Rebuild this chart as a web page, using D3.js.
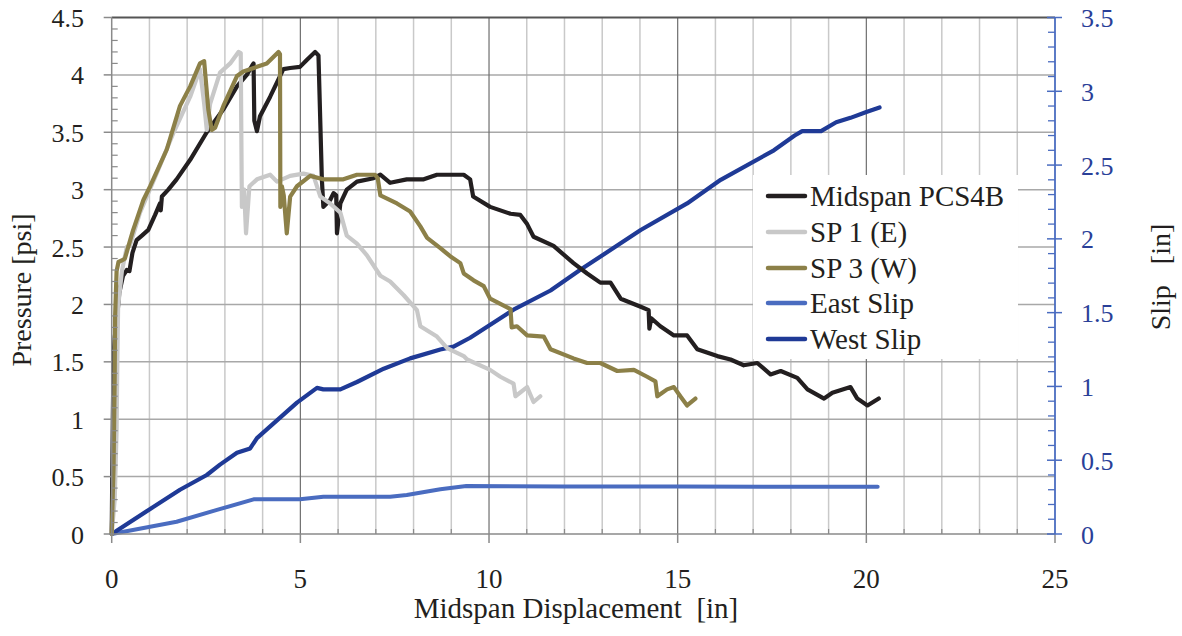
<!DOCTYPE html>
<html><head><meta charset="utf-8">
<script src="https://cdn.jsdelivr.net/npm/d3@7"></script>
<style>body{margin:0;background:#fff}text{font-family:"Liberation Serif","Times New Roman",serif}</style>
</head><body><svg id="c" width="1182" height="636"></svg>
<script>
const seriesNames = ["Midspan PCS4B","SP 1 (E)","SP 3 (W)","East Slip","West Slip"];
const xTicks = [0,5,10,15,20,25];
const yTicks = [0,0.5,1,1.5,2,2.5,3,3.5,4,4.5];
const y2Ticks = [0,0.5,1,1.5,2,2.5,3,3.5];

const midspanPCS4B = [[0,0],[0.03,1.0],[0.05,1.55],[0.08,1.72],[0.12,1.8],[0.2,2.1],[0.3,2.25],[0.4,2.3],[0.47,2.29],[0.55,2.45],[0.66,2.56],[0.8,2.6],[0.97,2.65],[1.15,2.78],[1.28,2.88],[1.3,2.82],[1.33,2.94],[1.5,3.0],[1.72,3.09],[2.08,3.26],[2.52,3.5],[2.96,3.7],[3.32,3.9],[3.58,4.0],[3.72,4.08],[3.76,4.1],[3.78,3.6],[3.85,3.51],[3.93,3.64],[4.2,3.81],[4.55,4.05],[4.73,4.06],[4.99,4.07],[5.17,4.13],[5.39,4.2],[5.48,4.17],[5.57,3.09],[5.61,2.85],[5.79,2.91],[5.88,2.97],[5.95,2.95],[5.97,2.62],[6.06,2.88],[6.23,3.0],[6.5,3.07],[6.94,3.1],[7.12,3.13],[7.38,3.06],[7.82,3.09],[8.27,3.09],[8.62,3.13],[9.15,3.13],[9.33,3.13],[9.5,3.09],[9.58,2.94],[10.03,2.85],[10.57,2.79],[10.83,2.78],[11.01,2.7],[11.18,2.59],[11.71,2.51],[12.24,2.36],[12.6,2.27],[12.95,2.19],[13.22,2.19],[13.49,2.05],[14.02,1.98],[14.23,1.95],[14.25,1.79],[14.3,1.88],[14.54,1.81],[14.9,1.73],[15.25,1.73],[15.52,1.61],[16.05,1.55],[16.4,1.52],[16.75,1.47],[17.11,1.49],[17.46,1.39],[17.73,1.42],[18.17,1.36],[18.44,1.26],[18.88,1.18],[19.1,1.23],[19.58,1.28],[19.76,1.18],[20.03,1.12],[20.33,1.18]];

const sp1E = [[0,0],[0.08,0.3],[0.13,0.91],[0.15,1.5],[0.17,1.98],[0.27,2.29],[0.4,2.5],[0.49,2.52],[0.75,2.8],[1.19,3.14],[1.63,3.49],[2.08,3.81],[2.34,4.05],[2.45,3.75],[2.52,3.52],[2.61,3.75],[2.87,4.02],[3.14,4.1],[3.36,4.2],[3.42,4.19],[3.45,2.85],[3.51,3.0],[3.56,2.62],[3.65,3.03],[3.85,3.09],[4.2,3.13],[4.38,3.07],[4.73,3.12],[5.08,3.14],[5.35,3.12],[5.53,2.94],[5.79,2.88],[6.06,2.8],[6.23,2.6],[6.5,2.53],[6.76,2.43],[7.12,2.25],[7.38,2.2],[7.74,2.08],[8.09,1.95],[8.18,1.81],[8.62,1.72],[8.89,1.62],[9.33,1.55],[9.42,1.52],[10.03,1.43],[10.3,1.37],[10.65,1.31],[10.7,1.2],[11.01,1.28],[11.18,1.15],[11.36,1.2]];

const sp3W = [[0,0],[0.05,0.6],[0.08,1.4],[0.09,1.89],[0.13,2.29],[0.18,2.37],[0.31,2.39],[0.35,2.4],[0.49,2.56],[0.57,2.65],[0.84,2.91],[1.02,3.03],[1.46,3.35],[1.81,3.73],[2.08,3.9],[2.34,4.1],[2.45,4.12],[2.56,3.7],[2.65,3.52],[2.74,3.54],[2.96,3.73],[3.32,3.99],[3.49,4.03],[3.85,4.07],[4.11,4.1],[4.42,4.2],[4.46,4.18],[4.47,2.85],[4.51,3.03],[4.56,2.95],[4.64,2.62],[4.73,2.94],[4.91,3.03],[5.26,3.12],[5.61,3.09],[6.14,3.09],[6.5,3.13],[6.98,3.13],[7.05,3.1],[7.12,2.95],[7.56,2.88],[7.91,2.81],[8.18,2.68],[8.36,2.58],[8.71,2.49],[8.97,2.42],[9.24,2.36],[9.33,2.27],[9.59,2.21],[9.86,2.16],[10.03,2.05],[10.57,1.96],[10.6,1.8],[10.74,1.81],[11.01,1.73],[11.45,1.72],[11.63,1.61],[12.24,1.53],[12.6,1.49],[12.95,1.49],[13.4,1.42],[13.84,1.43],[14.19,1.37],[14.41,1.33],[14.46,1.2],[14.72,1.26],[14.9,1.28],[15.07,1.2],[15.25,1.12],[15.47,1.18]];

const eastSlip = [[0,0],[1.72,0.083],[2.79,0.163],[3.76,0.235],[4.99,0.235],[5.61,0.253],[7.38,0.253],[7.82,0.264],[8.71,0.303],[9.4,0.325],[12,0.322],[15,0.322],[18,0.32],[20.3,0.32]];

const westSlip = [[0,0],[1.02,0.17],[1.81,0.3],[2.52,0.4],[2.87,0.47],[3.32,0.55],[3.67,0.58],[3.85,0.65],[4.38,0.77],[4.91,0.89],[5.44,0.99],[5.61,0.98],[6.06,0.98],[6.5,1.03],[7.21,1.12],[7.91,1.19],[8.71,1.25],[9.06,1.27],[9.5,1.33],[10.65,1.52],[11.63,1.65],[12.42,1.79],[14.02,2.06],[15.25,2.24],[16.14,2.4],[17.55,2.6],[18.1,2.7],[18.3,2.73],[18.8,2.73],[19.2,2.79],[19.58,2.82],[20.0,2.86],[20.35,2.89]];

const colors = {"Midspan PCS4B":"#231f20","SP 1 (E)":"#c8c8c8","SP 3 (W)":"#8c8048","East Slip":"#4a6cc0","West Slip":"#1f3a96"};

const L=111.7, R=1055, T=17.5, B=534;
const svg = d3.select("#c");
const x = d3.scaleLinear().domain([0,25]).range([L,R]);
const y = d3.scaleLinear().domain([0,4.5]).range([B,T]);
const y2 = d3.scaleLinear().domain([0,3.5]).range([B,T]);

const g = svg.append("g");
// grid
const minorX = d3.range(1,25).filter(v=>v%5!==0);
g.selectAll(".gx").data(minorX).join("line").attr("x1",d=>x(d)).attr("x2",d=>x(d)).attr("y1",T).attr("y2",B).attr("stroke","#c9c9c9").attr("stroke-width",1.5);
g.selectAll(".gy").data(yTicks.filter(v=>v>0&&v<4.5)).join("line").attr("x1",L).attr("x2",R).attr("y1",d=>y(d)).attr("y2",d=>y(d)).attr("stroke","#a8a8a8").attr("stroke-width",1.5);
g.selectAll(".gX").data([5,10,15,20]).join("line").attr("x1",d=>x(d)).attr("x2",d=>x(d)).attr("y1",T).attr("y2",B).attr("stroke","#6e6e6e").attr("stroke-width",1.2);
g.append("line").attr("x1",L).attr("x2",R).attr("y1",T).attr("y2",T).attr("stroke","#555").attr("stroke-width",2);

// lines
const line = (ys)=>d3.line().x(d=>x(d[0])).y(d=>ys(d[1]));
const draw=(data,ys,name,w)=>svg.append("path").datum(data).attr("d",line(ys)).attr("fill","none").attr("stroke",colors[name]).attr("stroke-width",w).attr("stroke-linejoin","round").attr("stroke-linecap","round");
draw(eastSlip,y2,"East Slip",4);
draw(westSlip,y2,"West Slip",4.2);
draw(midspanPCS4B,y,"Midspan PCS4B",4.2);
draw(sp1E,y,"SP 1 (E)",4.2);
draw(sp3W,y,"SP 3 (W)",4.2);

// left axis
const ax = svg.append("g");
ax.append("line").attr("x1",L).attr("x2",L).attr("y1",T).attr("y2",B).attr("stroke","#8a8a8a").attr("stroke-width",1.5);
ax.selectAll(".mt").data(d3.range(0,46).map(i=>i/10).filter(v=>Math.round(v*10)%5!==0)).join("line").attr("x1",L).attr("x2",L+6).attr("y1",d=>y(d)).attr("y2",d=>y(d)).attr("stroke","#8a8a8a").attr("stroke-width",1.2);
ax.selectAll(".Mt").data(yTicks).join("line").attr("x1",L-8).attr("x2",L).attr("y1",d=>y(d)).attr("y2",d=>y(d)).attr("stroke","#8a8a8a").attr("stroke-width",1.5);
ax.selectAll(".yl").data(yTicks).join("text").attr("x",84).attr("y",d=>y(d)+9.5).attr("text-anchor","end").attr("font-size",26).attr("fill","#231f20").text(d=>d);

// bottom axis
ax.append("line").attr("x1",L).attr("x2",R).attr("y1",B).attr("y2",B).attr("stroke","#8a8a8a").attr("stroke-width",1.5);
ax.selectAll(".bmt").data(minorX).join("line").attr("x1",d=>x(d)).attr("x2",d=>x(d)).attr("y1",B-5).attr("y2",B).attr("stroke","#8a8a8a").attr("stroke-width",1.2);
ax.selectAll(".bMt").data(xTicks).join("line").attr("x1",d=>x(d)).attr("x2",d=>x(d)).attr("y1",B).attr("y2",B+9).attr("stroke","#8a8a8a").attr("stroke-width",1.5);
ax.selectAll(".xl").data(xTicks).join("text").attr("x",d=>x(d)).attr("y",588).attr("text-anchor","middle").attr("font-size",27).attr("fill","#231f20").text(d=>d);

// right axis
const blue="#4a6cc0";
ax.append("line").attr("x1",R).attr("x2",R).attr("y1",T).attr("y2",B).attr("stroke",blue).attr("stroke-width",1.8);
ax.selectAll(".rmt").data(d3.range(0,36).map(i=>i/10).filter(v=>Math.round(v*10)%5!==0)).join("line").attr("x1",R-7).attr("x2",R).attr("y1",d=>y2(d)).attr("y2",d=>y2(d)).attr("stroke",blue).attr("stroke-width",1.3);
ax.selectAll(".rMt").data(y2Ticks).join("line").attr("x1",R-8).attr("x2",R+7).attr("y1",d=>y2(d)).attr("y2",d=>y2(d)).attr("stroke",blue).attr("stroke-width",1.5);
ax.selectAll(".y2l").data(y2Ticks).join("text").attr("x",1081).attr("y",d=>y2(d)+9.5).attr("text-anchor","start").attr("font-size",26).attr("fill","#2a3f98").text(d=>d);

// titles
svg.append("text").attr("x",576).attr("y",618).attr("text-anchor","middle").attr("font-size",29).attr("fill","#231f20").style("white-space","pre").text("Midspan Displacement  [in]");
svg.append("text").attr("transform","translate(31,290) rotate(-90)").attr("text-anchor","middle").attr("font-size",28).attr("fill","#231f20").text("Pressure [psi]");
svg.append("text").attr("transform","translate(1170,277) rotate(-90)").attr("text-anchor","middle").attr("font-size",28).attr("fill","#231f20").style("white-space","pre").text("Slip   [in]");

// legend
const lg = svg.append("g");
lg.append("rect").attr("x",753).attr("y",175).attr("width",265).attr("height",184).attr("fill","#fff");
const rowY = [196,232,268,303,339];
seriesNames.forEach((n,i)=>{
  lg.append("line").attr("x1",768).attr("x2",805).attr("y1",rowY[i]).attr("y2",rowY[i]).attr("stroke",colors[n]).attr("stroke-width",4.5).attr("stroke-linecap","round");
  lg.append("text").attr("x",810).attr("y",rowY[i]+10).attr("font-size",29).attr("fill","#231f20").text(n);
});
</script></body></html>
